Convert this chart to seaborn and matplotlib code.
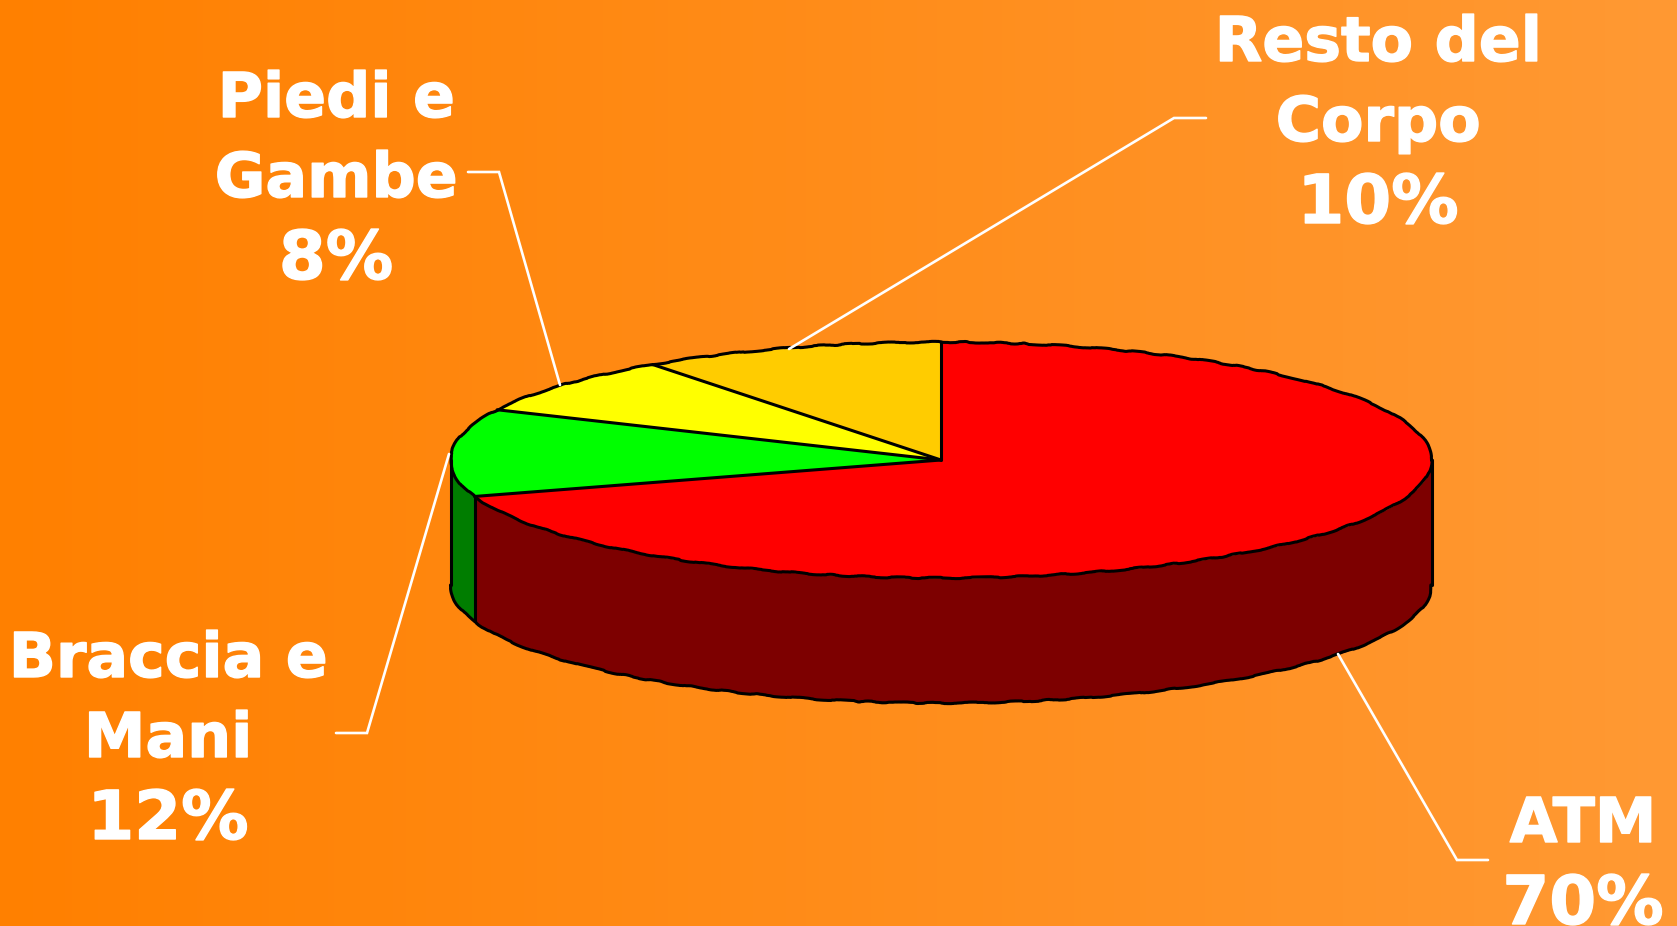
import numpy as np
import matplotlib
matplotlib.use("Agg")
import matplotlib.pyplot as plt
import matplotlib.patheffects as pe
from matplotlib.colors import LinearSegmentedColormap
import seaborn as sns

# data
categories = ["ATM", "Braccia e\nMani", "Piedi e\nGambe", "Resto del\nCorpo"]
values = [70, 12, 8, 10]
top_colors = ["#FF0000", "#00FF00", "#FFFF00", "#FFCC00"]
side_colors = ["#7D0000", "#007D00", "#808000", "#806600"]

sns.set_theme(style="white")
plt.rcParams["font.family"] = ["DejaVu Sans"]

W, H = 1677, 926
fig = plt.figure(figsize=(W / 100, H / 100), dpi=100)

# background gradient
bg = fig.add_axes([0, 0, 1, 1])
cmap = LinearSegmentedColormap.from_list("bg", ["#FF8000", "#FF9933"])
bg.imshow(np.linspace(0, 1, 256)[None, :], aspect="auto", cmap=cmap, extent=(0, W, H, 0))
bg.set_xlim(0, W)
bg.set_ylim(H, 0)
bg.axis("off")

# pie axes: one data unit = the ellipse radii
cx, cy, rx, ry, depth = 941.0, 460.0, 490.5, 118.0, 125.0
ax = fig.add_axes([0, 0, 1, 1])
ax.patch.set_alpha(0)
d = depth / ry
edge = dict(color="black", lw=2.2, solid_capstyle="round", solid_joinstyle="round")
rough = (0.7, 90, 11)

# side wall: only the front half (sin < 0) of each slice is visible
start = 90.0
bounds = []
radials = []
for v, c in zip(values, side_colors):
    end = start - v * 3.6
    radials.append(start)
    lo, hi = end % 360, (start % 360) or 360
    if lo > hi:
        hi += 360
    lo2, hi2 = max(lo, 180), min(hi, 360)
    if hi2 > lo2:
        t = np.radians(np.linspace(lo2, hi2, 200))
        ax.fill_between(np.cos(t), np.sin(t), np.sin(t) - d, color=c, lw=0)
        bounds += [lo2, hi2]
    start = end

ax.pie(values, colors=top_colors, startangle=90, counterclock=False, radius=1,
       wedgeprops=dict(linewidth=0))

# outlines: rim of the top, rim of the bottom, slice borders, wall borders
t = np.radians(np.linspace(0, 360, 800))
ax.plot(np.cos(t), np.sin(t), **edge)[0].set_sketch_params(*rough)
t = np.radians(np.linspace(180, 360, 400))
ax.plot(np.cos(t), np.sin(t) - d, **edge)[0].set_sketch_params(*rough)
for b in sorted(set(bounds)):
    r = np.radians(b)
    ax.plot([np.cos(r)] * 2, [np.sin(r), np.sin(r) - d], **edge)
for b in radials:
    r = np.radians(b)
    ax.plot([0, np.cos(r)], [0, np.sin(r)], **edge)

ax.set_aspect("auto")
ax.set_xlim((0 - cx) / rx, (W - cx) / rx)
ax.set_ylim((cy - H) / ry, cy / ry)
ax.axis("off")

# labels + leader lines on top
ov = fig.add_axes([0, 0, 1, 1])
ov.patch.set_alpha(0)
ov.set_xlim(0, W)
ov.set_ylim(H, 0)
ov.axis("off")

label_pos = [(1583, 922), (168, 837), (336, 277), (1378, 221)]
leaders = [
    [(1338, 654), (1457, 860), (1488, 860)],
    [(449, 454), (367, 733), (336, 733)],
    [(560, 385), (499, 172), (468, 172)],
    [(789, 349), (1174, 118), (1206, 118)],
]
heavy = [pe.withStroke(linewidth=1.0, foreground="white")]
step = 80.0
for name, v, (x, y), path in zip(categories, values, label_pos, leaders):
    lines = name.split("\n")
    ov.text(x, y + 2, f"{v}%", color="white", fontsize=48.5, fontweight="bold",
            ha="center", va="baseline", path_effects=heavy)
    for i, line in enumerate(reversed(lines), start=1):
        ov.text(x, y - i * step, line, color="white", fontsize=44.5, fontweight="bold",
                ha="center", va="baseline", path_effects=heavy)
    xs, ys = zip(*path)
    ov.plot(xs, ys, color="white", lw=1.9, solid_joinstyle="miter")

fig.savefig("out.png", dpi=100)
